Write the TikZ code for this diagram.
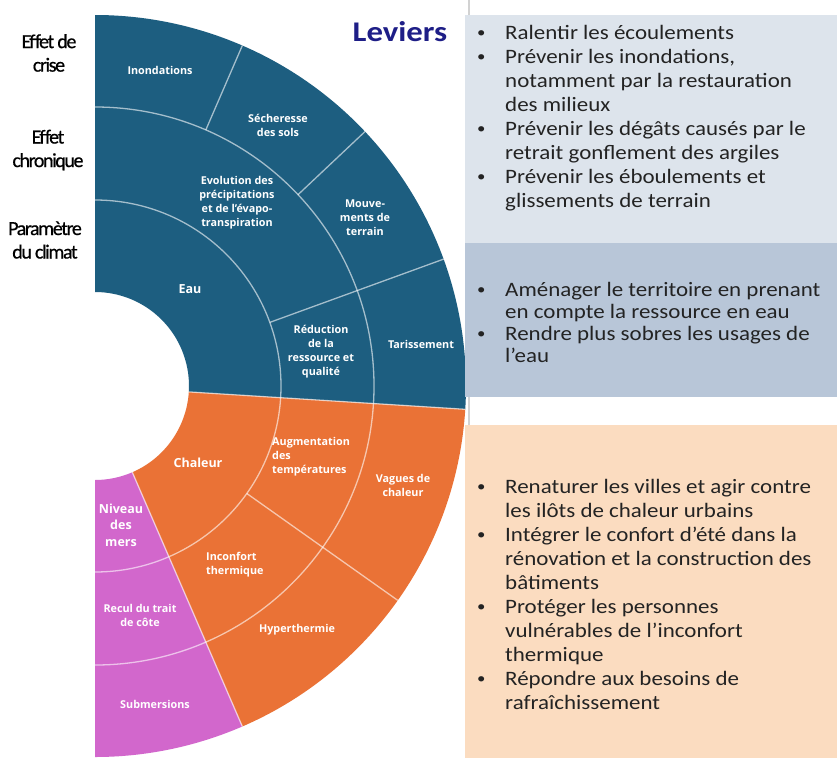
\documentclass[tikz,border=0pt]{standalone}
\usepackage{fontspec}
\setmainfont{Carlito}
\newfontfamily\boxfont{Carlito}[FakeStretch=1.12]
\newfontfamily\levfont{Carlito}[FakeStretch=1.15]
\newfontfamily\leftfont{Carlito}[LetterSpace=-7,FakeBold=0.6]
\newfontfamily\fanfont{Open Sans}
\usetikzlibrary{calc}
\definecolor{eaublue}{RGB}{29,94,128}
\definecolor{chalorange}{RGB}{234,114,54}
\definecolor{merpink}{RGB}{210,103,204}
\definecolor{boxA}{RGB}{221,228,236}
\definecolor{boxB}{RGB}{184,198,216}
\definecolor{boxC}{RGB}{251,220,192}
\definecolor{levblue}{RGB}{30,30,135}
\definecolor{textdark}{RGB}{35,35,35}
\tikzset{
  sep/.style={draw=white, draw opacity=0.6, line width=1.3pt},
  fanlbl/.style={text=white, font=\fanfont\bfseries\fontsize{10.8}{14}\selectfont, align=center, inner sep=0pt},
  fanbig/.style={fanlbl, font=\fanfont\bfseries\fontsize{12.5}{16.5}\selectfont},
  leftlbl/.style={font=\leftfont\fontsize{20}{23.5}\selectfont, align=center, text=black, inner sep=0pt},
  bul/.style={anchor=base west, inner sep=0pt, align=left, text=textdark},
  topbul/.style={bul, font=\boxfont\fontsize{20.5}{24}\selectfont},
  midbul/.style={bul, font=\boxfont\fontsize{20.5}{22}\selectfont},
  botbul/.style={bul, font=\boxfont\fontsize{20.5}{24}\selectfont},
  dot/.style={bul, font=\boxfont\fontsize{15}{15}\selectfont}
}
\begin{document}
\begin{tikzpicture}[x=1pt,y=-1pt]
\useasboundingbox (0,0) rectangle (837,758);
\fill[white] (0,0) rectangle (837,758);
\coordinate (C) at (95,386);
% sectors
\fill[eaublue] ($(C)+(-90:94)$) arc[start angle=-90,end angle=3.6,radius=94] -- ($(C)+(3.6:371)$) arc[start angle=3.6,end angle=-90,radius=371] -- cycle;
\fill[chalorange] ($(C)+(3.6:94)$) arc[start angle=3.6,end angle=66.6,radius=94] -- ($(C)+(66.6:371)$) arc[start angle=66.6,end angle=3.6,radius=371] -- cycle;
\fill[merpink] ($(C)+(66.6:94)$) arc[start angle=66.6,end angle=90,radius=94] -- ($(C)+(90:371)$) arc[start angle=90,end angle=66.6,radius=371] -- cycle;
% separators
\draw[sep] ($(C)+(-90:186)$) arc[start angle=-90,end angle=90,radius=186];
\draw[sep] ($(C)+(-90:279)$) arc[start angle=-90,end angle=90,radius=279];
\draw[sep] ($(C)+(3.6:94)$) -- ($(C)+(3.6:371)$);
\draw[sep] ($(C)+(66.6:94)$) -- ($(C)+(66.6:371)$);
\draw[sep] ($(C)+(-20:186)$) -- ($(C)+(-20:371)$);
\draw[sep] ($(C)+(35.3:186)$) -- ($(C)+(35.3:371)$);
\draw[sep] ($(C)+(-66.6:279)$) -- ($(C)+(-66.6:371)$);
\draw[sep] ($(C)+(-43.3:279)$) -- ($(C)+(-43.3:371)$);
% fan labels
\node[fanlbl] (inond) at (160,70) {Inondations};
\node[fanlbl] (sech) at (278,125) {Sécheresse\\des sols};
\node[fanlbl] (evol) at (237,202.5) {Evolution des\\précipitations\\et de l’évapo-\\transpiration};
\node[fanlbl] (mouv) at (365,218) {Mouve-\\ments de\\terrain};
\node[fanbig] (eau) at (190,289) {Eau};
\node[fanlbl] (reduc) at (321,352) {Réduction\\de la\\ressource et\\qualité};
\node[fanlbl] (tariss) at (421,344) {Tarissement};
\node[fanbig] (chal) at (198,463) {Chaleur};
\node[fanlbl, align=left, anchor=west] (augm) at (272,456.5) {Augmentation\\des\\températures};
\node[fanlbl] (vague) at (403,485.5) {Vagues de\\chaleur};
\node[fanbig] (niv) at (121,525) {Niveau\\des\\mers};
\node[fanlbl, align=left, anchor=west] (inconf) at (206,565) {Inconfort\\thermique};
\node[fanlbl] (recul) at (140,615) {Recul du trait\\de côte};
\node[fanlbl] (hyper) at (297,630) {Hyperthermie};
\node[fanlbl] (subm) at (155,704) {Submersions};
% left labels
\node[leftlbl] (crise) at (49,53) {Effet de\\crise};
\node[leftlbl] (chron) at (48,150) {Effet\\chronique};
\node[leftlbl] (param) at (45,240) {Paramètre\\du climat};
% title
\node[text=levblue, font=\levfont\bfseries\fontsize{28.5}{30}\selectfont, inner sep=0pt] (lev) at (400,32) {Leviers};
% right boxes
\draw[gray!35, line width=1.2pt] (469,0) -- (469,758);
\fill[boxA] (465,15) rectangle (837,243);
\fill[boxB] (465,243) rectangle (837,397);
\fill[boxC] (465,425) rectangle (837,758);
% top box (y = baseline of last line)
\node[dot] (b1) at (477,37.5) {•};
\node[topbul] (t1) at (505,39.5) {Ralentir les écoulements};
\node[dot] (b2) at (477,61.5) {•};
\node[topbul] (t2) at (505,111.5) {Prévenir les inondations,\\notamment par la restauration\\des milieux};
\node[dot] (b3) at (477,133.5) {•};
\node[topbul] (t3) at (505,159.5) {Prévenir les dégâts causés par le\\retrait gonflement des argiles};
\node[dot] (b4) at (477,181.5) {•};
\node[topbul] (t4) at (505,207.5) {Prévenir les éboulements et\\glissements de terrain};
% middle box
\node[dot] (b5) at (477,294.5) {•};
\node[midbul] (t5) at (505,318.5) {Aménager le territoire en prenant\\en compte la ressource en eau};
\node[dot] (b6) at (477,338) {•};
\node[midbul] (t6) at (505,362) {Rendre plus sobres les usages de\\l’eau};
% bottom box
\node[dot] (b7) at (477,491.5) {•};
\node[botbul] (t7) at (505,517.5) {Renaturer les villes et agir contre\\les ilôts de chaleur urbains};
\node[dot] (b8) at (477,539.5) {•};
\node[botbul] (t8) at (505,589.5) {Intégrer le confort d’été dans la\\rénovation et la construction des\\bâtiments};
\node[dot] (b9) at (477,611.5) {•};
\node[botbul] (t9) at (505,661.5) {Protéger les personnes\\vulnérables de l’inconfort\\thermique};
\node[dot] (b10) at (477,683.5) {•};
\node[botbul] (t10) at (505,709.5) {Répondre aux besoins de\\rafraîchissement};
\end{tikzpicture}
\end{document}
